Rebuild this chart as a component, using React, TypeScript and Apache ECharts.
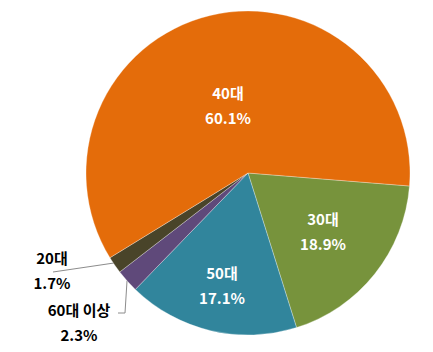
import React, { useEffect, useRef } from "react";
import * as echarts from "echarts";

const categories = ["30대", "50대", "60대 이상", "20대", "40대"];
const values = [18.9, 17.1, 2.3, 1.7, 60.1];
const colors = ["#77933C", "#31859C", "#5F497A", "#494429", "#E46C0A"];
const outsideLabels = ["60대 이상", "20대"];

const labelPos: Record<string, { x: number; y: number; line?: number[][] }> = {
  "40대": { x: 228, y: 105 },
  "30대": { x: 323, y: 231 },
  "50대": { x: 222, y: 285 },
  "20대": { x: 52, y: 270, line: [[114, 263], [53, 272]] },
  "60대 이상": { x: 79, y: 322, line: [[127, 281], [125, 313], [118, 313]] },
};

export default function App() {
  const ref = useRef<HTMLDivElement>(null);
  useEffect(() => {
    if (!ref.current) return;
    const chart = echarts.init(ref.current, undefined, { renderer: "svg" });
    const data = categories.map((name, i) => {
      const outside = outsideLabels.includes(name);
      return {
        name,
        value: values[i],
        itemStyle: { color: colors[i] },
        label: {
          position: outside ? "outside" : "inside",
          color: outside ? "#000" : "#fff",
        },
        labelLine: { show: outside },
      };
    });
    chart.setOption({
      animation: false,
      series: [
        {
          type: "pie",
          center: [248, 173],
          radius: 162,
          startAngle: -4.6,
          clockwise: true,
          data,
          itemStyle: { borderColor: "rgba(255,255,255,0.6)", borderWidth: 0.5 },
          label: {
            formatter: (p: any) => `${p.name}\n${Number(p.value).toFixed(1)}%`,
            fontFamily: "'Noto Sans CJK KR', 'Noto Sans', sans-serif",
            fontWeight: "bold",
            fontSize: 15,
            lineHeight: 25,
            align: "center",
          },
          labelLine: {
            lineStyle: { color: "#8C8C8C", width: 1 },
            smooth: false,
          },
          labelLayout: (params: any) => {
            const name = categories[params.dataIndex];
            const p = labelPos[name];
            if (!p) return {};
            const res: any = { x: p.x, y: p.y, align: "center", verticalAlign: "middle" };
            if (p.line) res.labelLinePoints = p.line;
            return res;
          },
        },
      ],
    });
    return () => chart.dispose();
  }, []);
  return (
    <div
      ref={ref}
      style={{ position: "fixed", left: 0, top: 0, width: 433, height: 352, background: "#fff" }}
    />
  );
}
